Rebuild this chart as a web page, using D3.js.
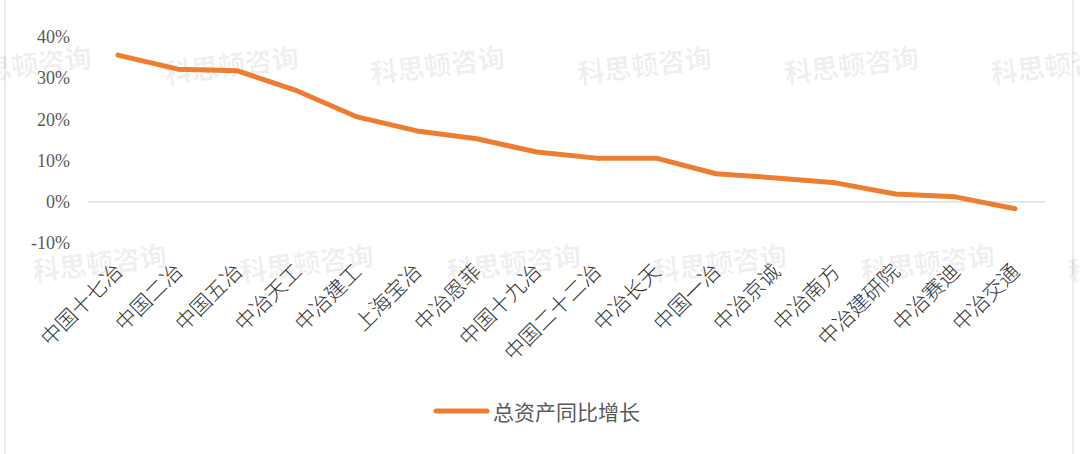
<!DOCTYPE html>
<html><head><meta charset="utf-8">
<script src="https://cdn.jsdelivr.net/npm/d3@7/dist/d3.min.js"></script>
<style>body{margin:0;background:#fff}svg{display:block}</style>
</head><body>
<script>
const categories = ["中国十七冶","中国二冶","中国五冶","中冶天工","中冶建工","上海宝冶","中冶恩菲","中国十九冶","中国二十二冶","中冶长天","中国一冶","中冶京诚","中冶南方","中冶建研院","中冶赛迪","中冶交通"];
const growth = [35.6, 32.2, 31.8, 26.9, 20.6, 17.2, 15.3, 12.1, 10.6, 10.6, 6.8, 5.8, 4.6, 1.9, 1.2, -1.7];
const yTicks = [-10, 0, 10, 20, 30, 40];
const seriesName = "总资产同比增长";
const watermark = "科思顿咨询";

const W = 1080, H = 454;
const svg = d3.select("body").append("svg").attr("width", W).attr("height", H);

// frame
svg.append("line").attr("x1",5).attr("x2",5).attr("y1",0).attr("y2",H).attr("stroke","#d9d9d9");
svg.append("line").attr("x1",1073).attr("x2",1073).attr("y1",0).attr("y2",H).attr("stroke","#d9d9d9");

// watermarks
const wmRows = [{y:68, xs:[25,232,438,645,852,1058]},{y:266, xs:[100,307,514,720,928,1135]}];
wmRows.forEach(r => r.xs.forEach(x => {
  svg.append("text").attr("transform",`translate(${x},${r.y}) rotate(-7)`)
    .attr("text-anchor","middle").attr("dominant-baseline","middle")
    .attr("font-family","Noto Sans CJK SC").attr("font-weight",700).attr("font-size",27)
    .attr("fill","#000").attr("fill-opacity",0.07).text(watermark);
}));

const x = d3.scalePoint().domain(categories).range([118, 1015]);
const y = d3.scaleLinear().domain([-10, 40]).range([243, 37]);

// zero line
svg.append("line").attr("x1",88).attr("x2",1045).attr("y1",y(0)).attr("y2",y(0))
  .attr("stroke","#d9d9d9").attr("stroke-width",1.3);

// y axis labels
const yAxis = d3.axisLeft(y).tickValues(yTicks).tickSize(0).tickPadding(0).tickFormat(d => d + "%");
const gy = svg.append("g").attr("transform","translate(70,0)").call(yAxis);
gy.select(".domain").remove();
gy.selectAll("text").attr("font-family","Liberation Serif, DejaVu Serif, serif").attr("font-size",18).attr("fill","#595959");

// x labels
const xAxis = d3.axisBottom(x).tickSize(0).tickPadding(0);
const gx = svg.append("g").call(xAxis);
gx.select(".domain").remove();
gx.selectAll(".tick").attr("transform", d => `translate(${x(d)},267)`);
gx.selectAll("text").attr("transform","rotate(-45)").attr("text-anchor","end")
  .attr("x",0).attr("y",0).attr("dy","0.4em")
  .attr("font-family","Noto Sans CJK SC").attr("font-weight",300).attr("font-size",21).attr("fill","#333");

// line
const line = d3.line().x((d,i) => x(categories[i])).y(d => y(d)).curve(d3.curveLinear);
svg.append("path").datum(growth).attr("d", line).attr("fill","none")
  .attr("stroke","#ED7D31").attr("stroke-width",5).attr("stroke-linejoin","round").attr("stroke-linecap","round");

// legend
svg.append("line").attr("x1",436).attr("x2",487).attr("y1",411).attr("y2",411)
  .attr("stroke","#ED7D31").attr("stroke-width",5).attr("stroke-linecap","round");
svg.append("text").attr("x",493).attr("y",411).attr("dominant-baseline","central")
  .attr("font-family","Noto Sans CJK SC").attr("font-size",21).attr("fill","#595959").text(seriesName);
</script>
</body></html>
